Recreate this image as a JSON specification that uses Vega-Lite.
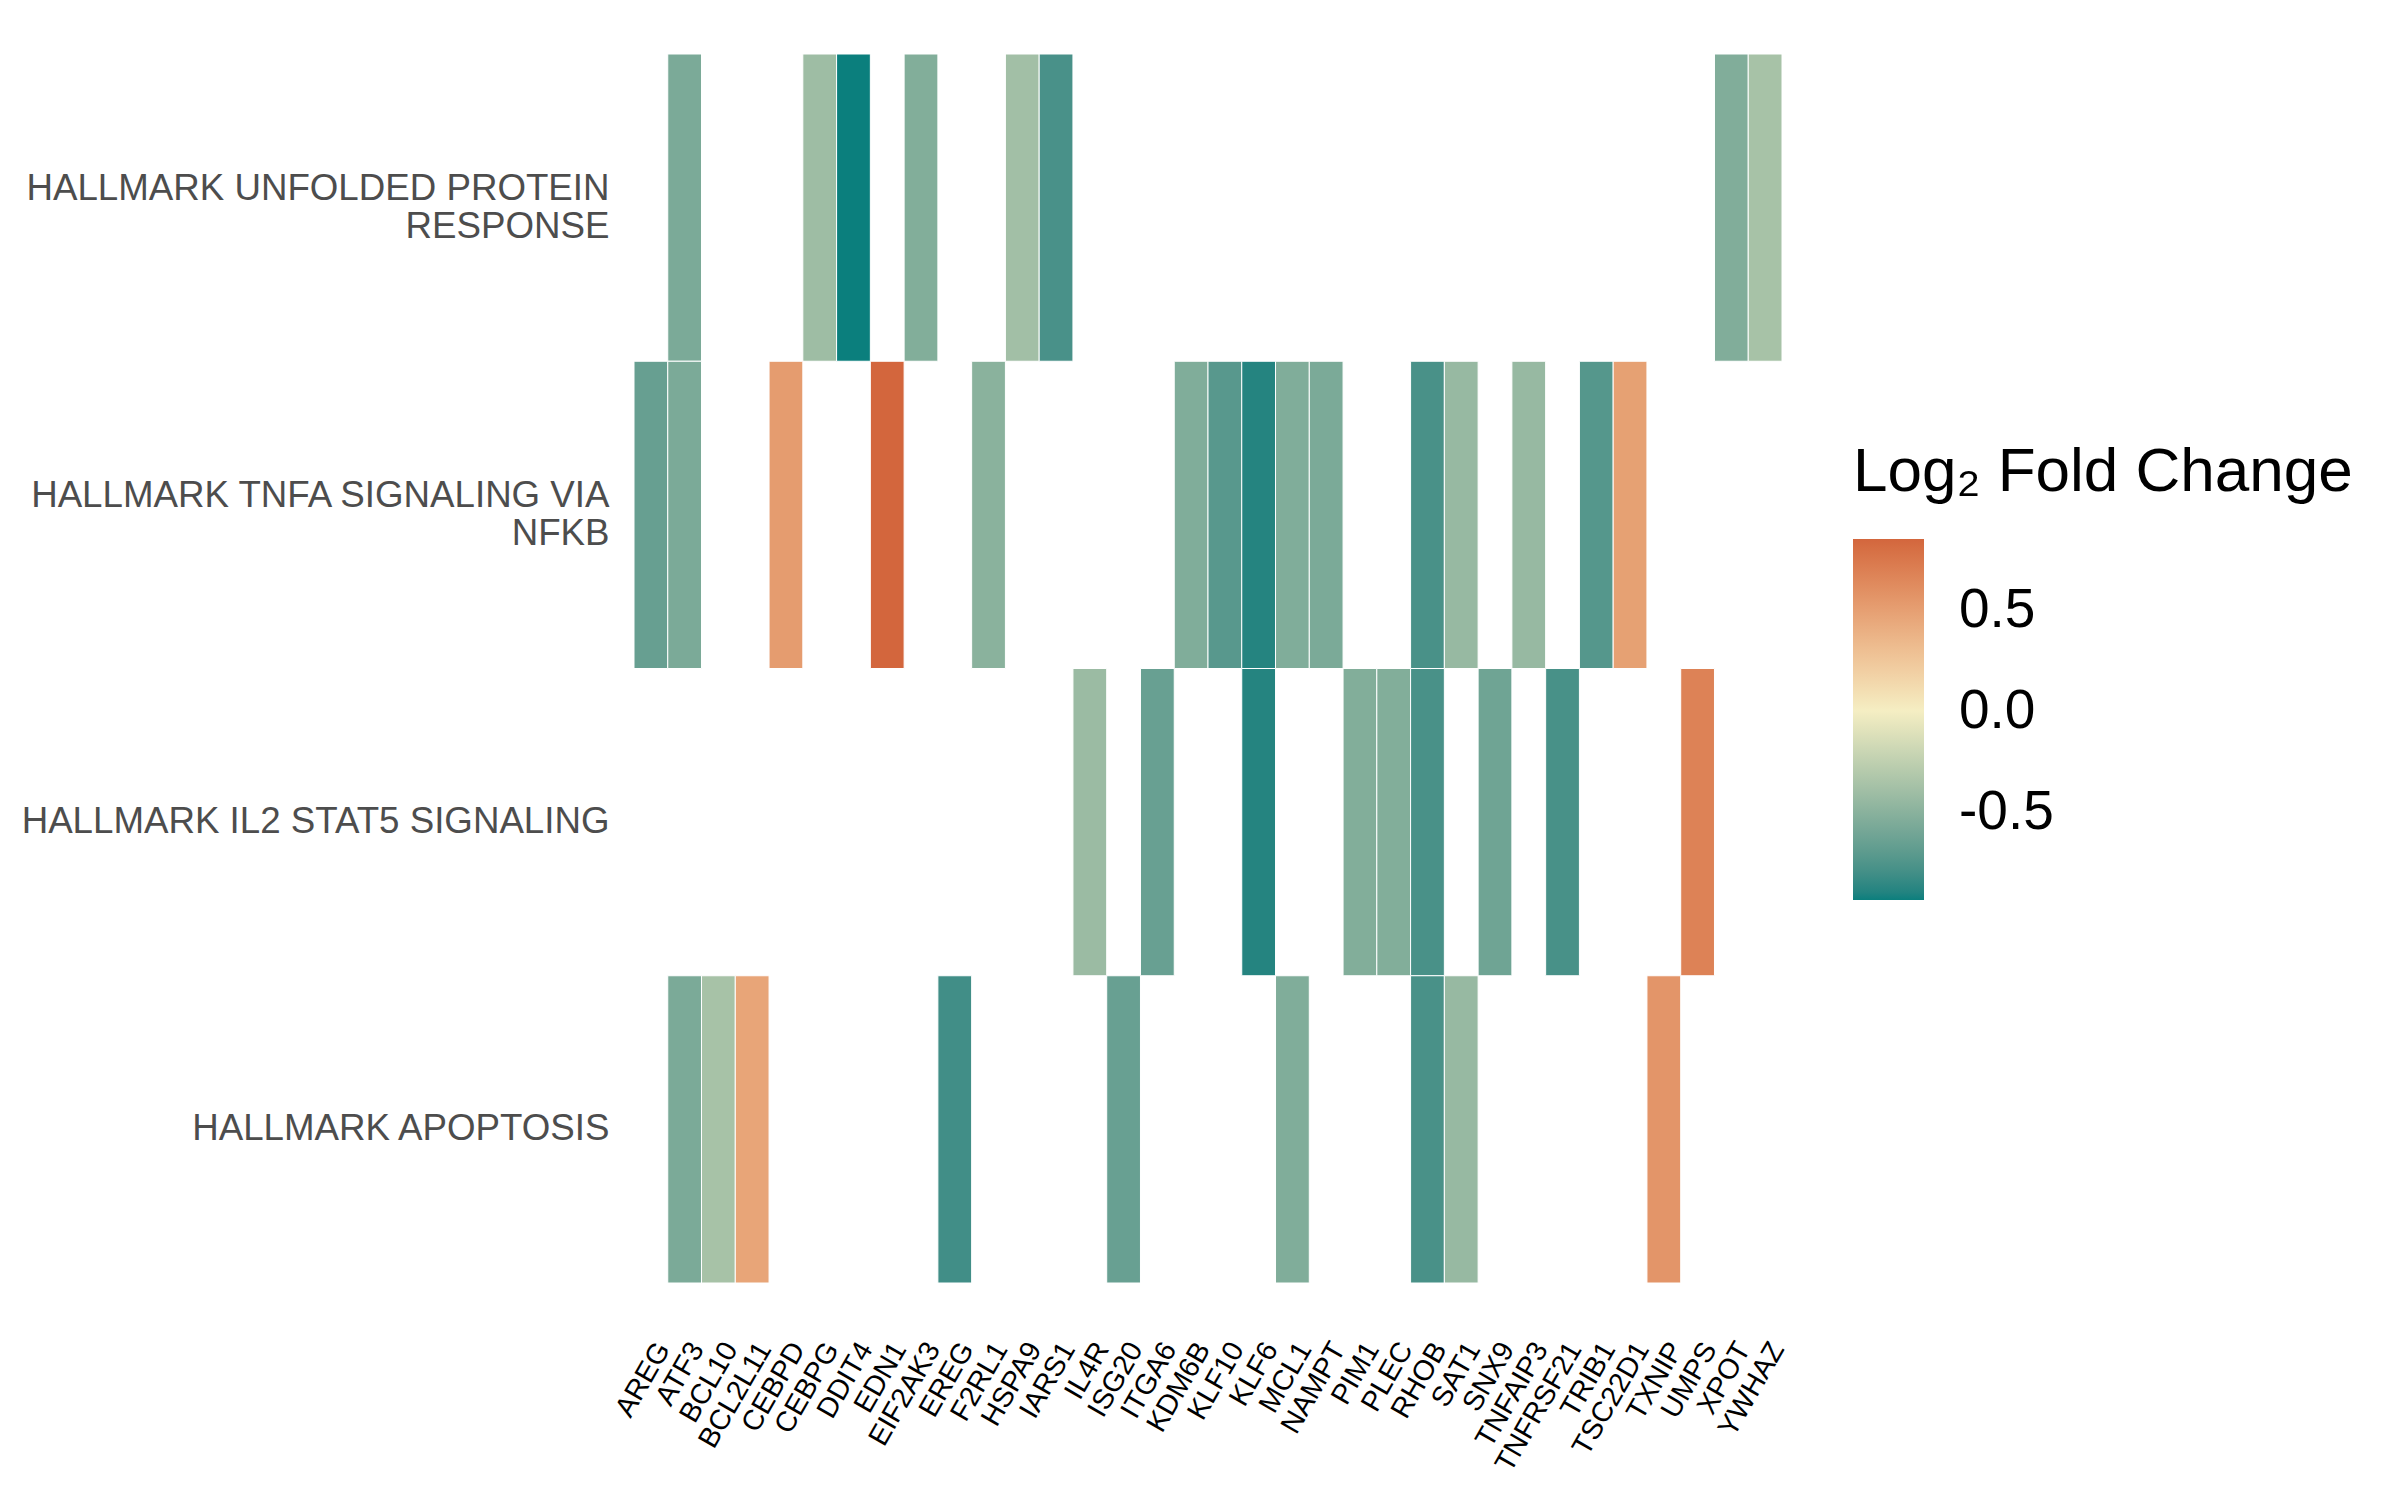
{
  "$schema": "https://vega.github.io/schema/vega-lite/v6.json",
  "autosize": {"type": "none"},
  "padding": {"left": 634, "top": 54, "right": 618, "bottom": 217},
  "width": 1148,
  "height": 1229,
  "background": "white",
  "config": {
    "view": {"stroke": null},
    "font": "Liberation Sans"
  },
  "data": {
    "values": [
      {"pathway": "HALLMARK UNFOLDED PROTEIN RESPONSE", "gene": "ATF3", "lfc": -0.568},
      {"pathway": "HALLMARK UNFOLDED PROTEIN RESPONSE", "gene": "CEBPG", "lfc": -0.406},
      {"pathway": "HALLMARK UNFOLDED PROTEIN RESPONSE", "gene": "DDIT4", "lfc": -0.937},
      {"pathway": "HALLMARK UNFOLDED PROTEIN RESPONSE", "gene": "EIF2AK3", "lfc": -0.537},
      {"pathway": "HALLMARK UNFOLDED PROTEIN RESPONSE", "gene": "HSPA9", "lfc": -0.387},
      {"pathway": "HALLMARK UNFOLDED PROTEIN RESPONSE", "gene": "IARS1", "lfc": -0.779},
      {"pathway": "HALLMARK UNFOLDED PROTEIN RESPONSE", "gene": "XPOT", "lfc": -0.54},
      {"pathway": "HALLMARK UNFOLDED PROTEIN RESPONSE", "gene": "YWHAZ", "lfc": -0.365},
      {"pathway": "HALLMARK TNFA SIGNALING VIA NFKB", "gene": "AREG", "lfc": -0.658},
      {"pathway": "HALLMARK TNFA SIGNALING VIA NFKB", "gene": "ATF3", "lfc": -0.568},
      {"pathway": "HALLMARK TNFA SIGNALING VIA NFKB", "gene": "CEBPD", "lfc": 0.52},
      {"pathway": "HALLMARK TNFA SIGNALING VIA NFKB", "gene": "EDN1", "lfc": 0.851},
      {"pathway": "HALLMARK TNFA SIGNALING VIA NFKB", "gene": "F2RL1", "lfc": -0.498},
      {"pathway": "HALLMARK TNFA SIGNALING VIA NFKB", "gene": "KDM6B", "lfc": -0.545},
      {"pathway": "HALLMARK TNFA SIGNALING VIA NFKB", "gene": "KLF10", "lfc": -0.718},
      {"pathway": "HALLMARK TNFA SIGNALING VIA NFKB", "gene": "KLF6", "lfc": -0.892},
      {"pathway": "HALLMARK TNFA SIGNALING VIA NFKB", "gene": "MCL1", "lfc": -0.545},
      {"pathway": "HALLMARK TNFA SIGNALING VIA NFKB", "gene": "NAMPT", "lfc": -0.568},
      {"pathway": "HALLMARK TNFA SIGNALING VIA NFKB", "gene": "RHOB", "lfc": -0.78},
      {"pathway": "HALLMARK TNFA SIGNALING VIA NFKB", "gene": "SAT1", "lfc": -0.441},
      {"pathway": "HALLMARK TNFA SIGNALING VIA NFKB", "gene": "TNFAIP3", "lfc": -0.441},
      {"pathway": "HALLMARK TNFA SIGNALING VIA NFKB", "gene": "TRIB1", "lfc": -0.732},
      {"pathway": "HALLMARK TNFA SIGNALING VIA NFKB", "gene": "TSC22D1", "lfc": 0.49},
      {"pathway": "HALLMARK IL2 STAT5 SIGNALING", "gene": "IL4R", "lfc": -0.424},
      {"pathway": "HALLMARK IL2 STAT5 SIGNALING", "gene": "ITGA6", "lfc": -0.652},
      {"pathway": "HALLMARK IL2 STAT5 SIGNALING", "gene": "KLF6", "lfc": -0.892},
      {"pathway": "HALLMARK IL2 STAT5 SIGNALING", "gene": "PIM1", "lfc": -0.537},
      {"pathway": "HALLMARK IL2 STAT5 SIGNALING", "gene": "PLEC", "lfc": -0.537},
      {"pathway": "HALLMARK IL2 STAT5 SIGNALING", "gene": "RHOB", "lfc": -0.78},
      {"pathway": "HALLMARK IL2 STAT5 SIGNALING", "gene": "SNX9", "lfc": -0.623},
      {"pathway": "HALLMARK IL2 STAT5 SIGNALING", "gene": "TNFRSF21", "lfc": -0.781},
      {"pathway": "HALLMARK IL2 STAT5 SIGNALING", "gene": "UMPS", "lfc": 0.68},
      {"pathway": "HALLMARK APOPTOSIS", "gene": "ATF3", "lfc": -0.568},
      {"pathway": "HALLMARK APOPTOSIS", "gene": "BCL10", "lfc": -0.365},
      {"pathway": "HALLMARK APOPTOSIS", "gene": "BCL2L11", "lfc": 0.46},
      {"pathway": "HALLMARK APOPTOSIS", "gene": "EREG", "lfc": -0.806},
      {"pathway": "HALLMARK APOPTOSIS", "gene": "ISG20", "lfc": -0.652},
      {"pathway": "HALLMARK APOPTOSIS", "gene": "MCL1", "lfc": -0.545},
      {"pathway": "HALLMARK APOPTOSIS", "gene": "RHOB", "lfc": -0.78},
      {"pathway": "HALLMARK APOPTOSIS", "gene": "SAT1", "lfc": -0.441},
      {"pathway": "HALLMARK APOPTOSIS", "gene": "TXNIP", "lfc": 0.56}
    ]
  },
  "mark": {"type": "rect", "stroke": "white", "strokeWidth": 1},
  "encoding": {
    "x": {
      "field": "gene",
      "type": "nominal",
      "scale": {
        "domain": ["AREG","ATF3","BCL10","BCL2L11","CEBPD","CEBPG","DDIT4","EDN1","EIF2AK3","EREG","F2RL1","HSPA9","IARS1","IL4R","ISG20","ITGA6","KDM6B","KLF10","KLF6","MCL1","NAMPT","PIM1","PLEC","RHOB","SAT1","SNX9","TNFAIP3","TNFRSF21","TRIB1","TSC22D1","TXNIP","UMPS","XPOT","YWHAZ"],
        "paddingInner": 0,
        "paddingOuter": 0
      },
      "axis": {
        "title": null,
        "domain": false,
        "ticks": false,
        "grid": false,
        "labelAngle": -60,
        "labelAlign": "right",
        "labelBaseline": "top",
        "labelFontSize": 28.5,
        "labelColor": "#000000",
        "labelPadding": 54,
        "labelLimit": 0,
        "labelFont": "Liberation Sans"
      }
    },
    "y": {
      "field": "pathway",
      "type": "nominal",
      "scale": {
        "domain": ["HALLMARK UNFOLDED PROTEIN RESPONSE", "HALLMARK TNFA SIGNALING VIA NFKB", "HALLMARK IL2 STAT5 SIGNALING", "HALLMARK APOPTOSIS"],
        "paddingInner": 0,
        "paddingOuter": 0
      },
      "axis": {
        "title": null,
        "domain": false,
        "ticks": false,
        "grid": false,
        "labelFontSize": 36.7,
        "labelColor": "#4D4D4D",
        "labelPadding": 25,
        "labelLimit": 0,
        "labelLineHeight": 38,
        "labelFont": "Liberation Sans",
        "labelOffset": {"condition": {"test": "indexof(datum.value, 'RESPONSE') >= 0 || indexof(datum.value, 'NFKB') >= 0", "value": -19}, "value": 0},
        "labelExpr": "datum.value == 'HALLMARK UNFOLDED PROTEIN RESPONSE' ? ['HALLMARK UNFOLDED PROTEIN', 'RESPONSE'] : datum.value == 'HALLMARK TNFA SIGNALING VIA NFKB' ? ['HALLMARK TNFA SIGNALING VIA', 'NFKB'] : datum.value"
      }
    },
    "color": {
      "field": "lfc",
      "type": "quantitative",
      "scale": {
        "type": "linear",
        "domain": [-0.937, 0, 0.851],
        "range": ["#0B7F7D", "#F5EEC3", "#D3663D"],
        "interpolate": "lab"
      },
      "legend": {
        "title": "Log₂ Fold Change",
        "orient": "none",
        "legendX": 1219,
        "legendY": 388,
        "direction": "vertical",
        "gradientLength": 361,
        "gradientThickness": 71,
        "gradientStrokeWidth": 0,
        "titleFontSize": 62,
        "titleFontWeight": "normal",
        "titleColor": "#000000",
        "titleFont": "Liberation Sans",
        "titlePadding": 35,
        "titleLimit": 0,
        "labelFontSize": 55,
        "labelColor": "#000000",
        "labelFont": "Liberation Sans",
        "labelOffset": 35,
        "values": [-0.5, 0, 0.5],
        "labelExpr": "replace(format(datum.value, '.1f'), '\u2212', '-')"
      }
    }
  }
}
